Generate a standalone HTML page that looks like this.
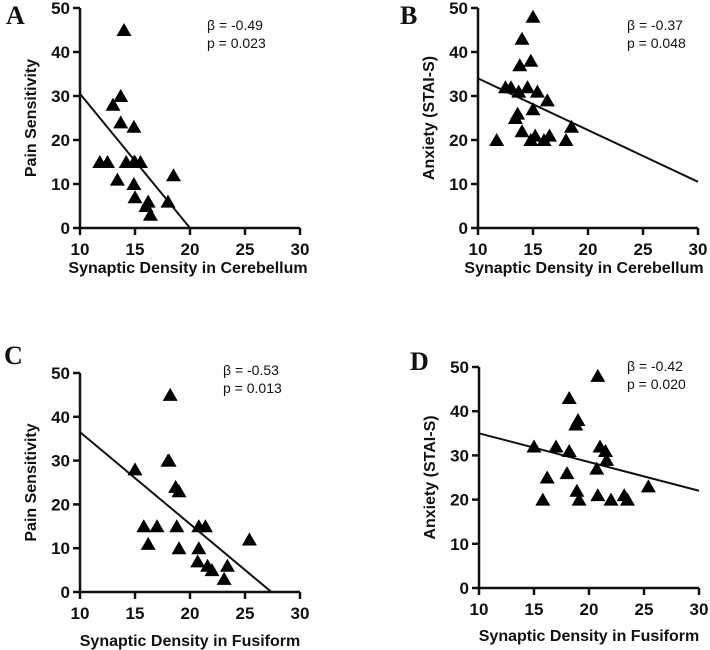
<!DOCTYPE html>
<html><head><meta charset="utf-8"><style>
body{margin:0;background:#fff}
svg{display:block}
.t{font-family:"Liberation Sans",sans-serif;font-weight:bold;font-size:17px;fill:#111}
.tt{font-family:"Liberation Sans",sans-serif;font-weight:bold;font-size:16px;fill:#111}
.a{font-family:"Liberation Sans",sans-serif;font-size:14px;fill:#111}
.p{font-family:"Liberation Serif",serif;font-weight:bold;font-size:26px;fill:#111}
</style></head><body>
<svg id="s" width="710" height="650"></svg>
<script>
const aX=[14,13.7,13,13.7,14.9,11.8,12.5,14.2,14.9,15.5,13.4,14.9,15,16.2,16,16.4,18,18.5,15];
const aY=[45,30,28,24,23,15,15,15,15,15,11,10,7,6,5,3,6,12,15];
const aLine=[[10,30.5],[20,0]];
const bX=[15,14,13.8,14.8,12.5,13,14.5,13.7,15.4,16.3,15,13.6,13.4,14,11.7,14.8,15.2,16,16.5,18,18.5];
const bY=[48,43,37,38,32,32,32,31,31,29,27,26,25,22,20,20,21,20,21,20,23];
const bLine=[[10,34],[30,10.5]];
const cX=[18.2,18,18.1,15,18.7,19,15.8,17,18.8,20.8,21.4,16.2,19,20.8,20.7,21.6,22,23.4,23.1,25.4];
const cY=[45,30,30,28,24,23,15,15,15,15,15,11,10,10,7,6,5,6,3,12];
const cLine=[[10,36.5],[27.4,0]];
const dX=[20.8,18.2,18.8,19,15,17,18.2,21,21.5,21.6,16.2,18,20.7,15.8,18.9,19.1,20.8,22,23.2,23.5,25.4];
const dY=[48,43,37,38,32,32,31,32,31,29,25,26,27,20,22,20,21,20,21,20,23];
const dLine=[[10,35],[30,22]];
const xTicks=[10,15,20,25,30], yTicks=[0,10,20,30,40,50];
const NS="http://www.w3.org/2000/svg", svg=document.getElementById('s');
function mk(tag,at,parent,txt){const e=document.createElementNS(NS,tag);for(const k in at)e.setAttribute(k,at[k]);if(txt!==undefined)e.textContent=txt;(parent||svg).appendChild(e);return e;}
const panels=[
 {id:'a',L:'A',lx:6,ly:24,x0:80,x1:300,y0:228,y1:8,X:aX,Y:aY,line:aLine,yt:'Pain Sensitivity',xt:'Synaptic Density in Cerebellum',xty:273,xtc:188,ytx:36,ax:207,ay:30,s1:'β = -0.49',s2:'p = 0.023'},
 {id:'b',L:'B',lx:400,ly:24,x0:478,x1:698,y0:228,y1:8,X:bX,Y:bY,line:bLine,yt:'Anxiety (STAI-S)',xt:'Synaptic Density in Cerebellum',xty:273,xtc:584,ytx:434,ax:627,ay:30,s1:'β = -0.37',s2:'p = 0.048'},
 {id:'c',L:'C',lx:4,ly:364,x0:80,x1:300,y0:592,y1:373,X:cX,Y:cY,line:cLine,yt:'Pain Sensitivity',xt:'Synaptic Density in Fusiform',xty:646,xtc:190,ytx:36,ax:223,ay:375,s1:'β = -0.53',s2:'p = 0.013'},
 {id:'d',L:'D',lx:410,ly:370,x0:479,x1:699,y0:588,y1:367,X:dX,Y:dY,line:dLine,yt:'Anxiety (STAI-S)',xt:'Synaptic Density in Fusiform',xty:641,xtc:589,ytx:435,ax:627,ay:371,s1:'β = -0.42',s2:'p = 0.020'}];
panels.forEach(p=>{
 const sx=v=>p.x0+(v-10)/20*(p.x1-p.x0), sy=v=>p.y0+v/50*(p.y1-p.y0);
 const g=mk('g',{});
 
 
 const lab=mk('text',{x:p.lx,y:p.ly,class:'p'},g,p.L);
 
 
 const ax=mk('path',{d:`M${p.x0},${p.y1}V${p.y0}H${p.x1}`,stroke:'#111','stroke-width':2.5,fill:'none'},g);
 
 
 xTicks.forEach(t=>{const x=sx(t);mk('line',{x1:x,x2:x,y1:p.y0,y2:p.y0+7,stroke:'#111','stroke-width':2.5},g);
  const tl=mk('text',{x:x,y:p.y0+27,class:'t','text-anchor':'middle'},g,t);
  
  });
 yTicks.forEach(t=>{const y=sy(t);mk('line',{x1:p.x0-7,x2:p.x0,y1:y,y2:y,stroke:'#111','stroke-width':2.5},g);
  const tl=mk('text',{x:p.x0-10,y:y+6,class:'t','text-anchor':'end'},g,t);
  
  });
 const xt=mk('text',{x:p.xtc,y:p.xty,class:'tt','text-anchor':'middle'},g,p.xt);
 
 
 const cy=(p.y0+p.y1)/2;
 const yt=mk('text',{x:p.ytx,y:cy,class:'tt','text-anchor':'middle',transform:`rotate(-90 ${p.ytx} ${cy})`},g,p.yt);
 
 
 const rl=mk('line',{x1:sx(p.line[0][0]),y1:sy(p.line[0][1]),x2:sx(p.line[1][0]),y2:sy(p.line[1][1]),stroke:'#111','stroke-width':2},g);
 
 
 p.X.forEach((v,i)=>{const x=sx(v),y=sy(p.Y[i]);
  const tr=mk('path',{d:`M${x},${y-7}L${x+7.5},${y+6}L${x-7.5},${y+6}Z`,fill:'#000'},g);
  
  });
 const s1=mk('text',{x:p.ax,y:p.ay,class:'a'},g,p.s1);
 
 
 const s2=mk('text',{x:p.ax,y:p.ay+18,class:'a'},g,p.s2);
 
 
});
</script>
</body></html>
